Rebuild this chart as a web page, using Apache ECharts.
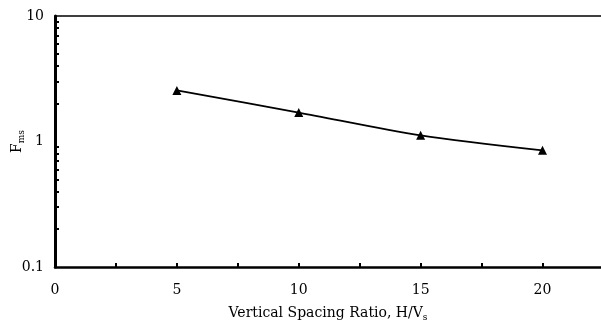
<!DOCTYPE html>
<html><head><meta charset="utf-8">
<script src="https://cdn.jsdelivr.net/npm/echarts@6/dist/echarts.min.js"></script>
<style>html,body{margin:0;padding:0;background:#fff}#c{width:601px;height:332px}</style>
</head><body><div id="c"></div>
<script>
const xValues = [5, 10, 15, 20];
const fmsValues = [2.55, 1.70, 1.12, 0.85];
const xLabelValues = [0, 5, 10, 15, 20];
const yMinorTicks = [0.2,0.3,0.4,0.5,0.6,0.7,0.8,0.9,2,3,4,5,6,7,8,9];
const yLabelValues = [0.1, 1, 10];
const xTitle = 'Vertical Spacing Ratio, H/V';
const yTitle = 'F';

const font = 'DejaVu Serif';
const rich = {
  n:{fontFamily:font,fontSize:14,color:'#000',lineHeight:18},
  s:{fontFamily:font,fontSize:9,color:'#000',lineHeight:18,verticalAlign:'bottom'}
};
const chart = echarts.init(document.getElementById('c'), null, {renderer:'canvas'});
chart.setOption({
  animation:false,
  backgroundColor:'#fff',
  grid:{left:55,right:0,top:16,bottom:65,outerBoundsMode:'none',containLabel:false},
  xAxis:[{
    type:'value', min:0, max:22.4, interval:2.5,
    axisLine:{lineStyle:{color:'#000',width:2.5}},
    axisTick:{inside:true,length:4,lineStyle:{color:'#000',width:2}},
    splitLine:{show:false},
    axisLabel:{margin:16,color:'#000',fontFamily:font,fontSize:14,showMaxLabel:false,
      formatter:v=>xLabelValues.indexOf(v)>=0?String(v):''},
    name:'{n|'+xTitle+'}{s|s}', nameLocation:'middle', nameGap:46,
    nameTextStyle:{verticalAlign:'middle',align:'center',rich:rich}
  },{
    type:'value', position:'top', min:0, max:22.4,
    axisLine:{lineStyle:{color:'#000',width:1.5}},
    axisTick:{show:false}, axisLabel:{show:false}, splitLine:{show:false}
  }],
  yAxis:{
    type:'log', logBase:10, min:0.1, max:10,
    axisLine:{show:true,lineStyle:{color:'#000',width:3}},
    axisTick:{show:true,inside:true,length:4,lineStyle:{color:'#000',width:2},customValues:yMinorTicks},
    splitLine:{show:false},
    axisLabel:{margin:11,color:'#000',fontFamily:font,fontSize:14,customValues:yLabelValues,
      formatter:v=>String(v)},
    name:'{n|'+yTitle+'}{s|ms}', nameLocation:'middle', nameGap:38, nameRotate:90, nameMoveOverlap:false,
    nameTextStyle:{verticalAlign:'middle',align:'center',rich:rich}
  },
  series:[{
    type:'line', data:xValues.map((x,i)=>[x,fmsValues[i]]),
    smooth:0.3, symbol:'triangle', symbolSize:9, showSymbol:true,
    lineStyle:{color:'#000',width:1.8}, itemStyle:{color:'#000'}
  }]
});
</script></body></html>
